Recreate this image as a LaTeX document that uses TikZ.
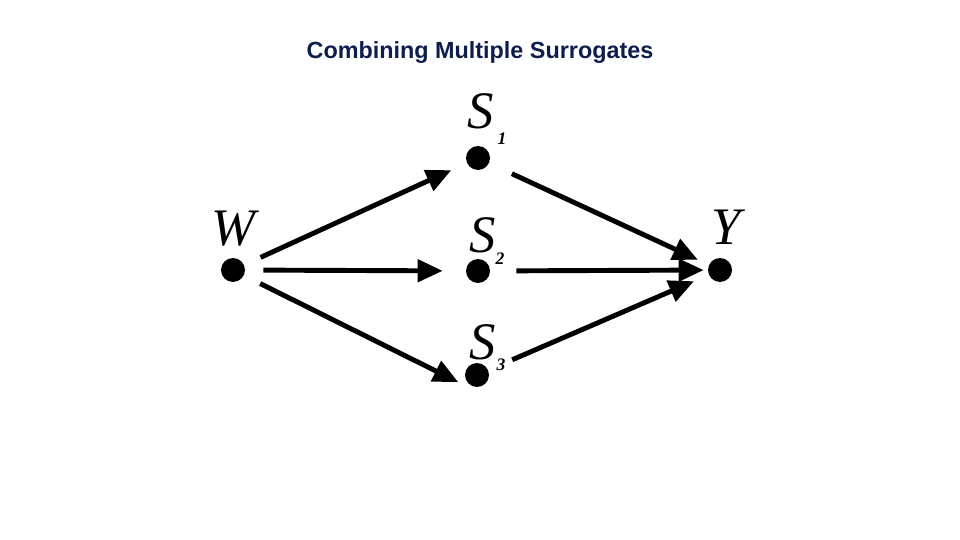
\documentclass[tikz,border=0pt]{standalone}
\usepackage{fontspec}
\setmainfont{Liberation Serif}
\newfontfamily\titlefont{Liberation Sans}
\usetikzlibrary{arrows.meta}
\definecolor{titlenavy}{RGB}{14,30,76}

\begin{document}
\begin{tikzpicture}[
  x=0.02cm, y=-0.02cm,
  >={Triangle[length=5mm, width=4.4mm]},
  dot/.style={circle, fill=black, inner sep=0pt, minimum size=4.8mm},
  varname/.style={font=\fontsize{30}{31}\selectfont\itshape, inner sep=0pt},
  idx/.style={font=\fontsize{10}{11}\selectfont\bfseries\itshape, inner sep=0pt},
  edge/.style={->, line width=2.8pt},
]
  \useasboundingbox (0,0) rectangle (960,540);

  \node[font=\titlefont\bfseries\fontsize{13.3}{15}\selectfont, text=titlenavy]
    (title) at (480,53) {Combining Multiple Surrogates};

  % points
  \node[dot] (w) at (233,270) {};
  \node[dot] (s1) at (478,158) {};
  \node[dot] (s2) at (478,271) {};
  \node[dot] (s3) at (477,375) {};
  \node[dot] (y) at (720,270) {};
  \coordinate (s3in) at (478,392);

  % letters
  \node[varname] (wlbl) at (233,229) {W};
  \node[varname] (s1lbl) at (481,111) {S};
  \node[varname] (s2lbl) at (483,235) {S};
  \node[varname] (s3lbl) at (483,342) {S};
  \node[varname] (ylbl) at (726,227) {Y};
  \node[idx] (s1sub) at (502,139) {1};
  \node[idx] (s2sub) at (500,259) {2};
  \node[idx] (s3sub) at (501,365) {3};

  \draw[edge, shorten <=3.6mm, shorten >=3.4mm] (w) -- (s1);
  \draw[edge, shorten <=3.6mm, shorten >=4.6mm] (w) -- (s2);
  \draw[edge, shorten <=3.6mm, shorten >=4.4mm] (w) -- (s3in);
  \draw[edge, shorten <=5mm, shorten >=2.4mm] (s1) -- (y);
  \draw[edge, shorten <=5.2mm, shorten >=0.8mm] (s2) -- (y);
  \draw[edge, shorten <=5.2mm, shorten >=3.2mm] (s3) -- (y);
\end{tikzpicture}
\end{document}
